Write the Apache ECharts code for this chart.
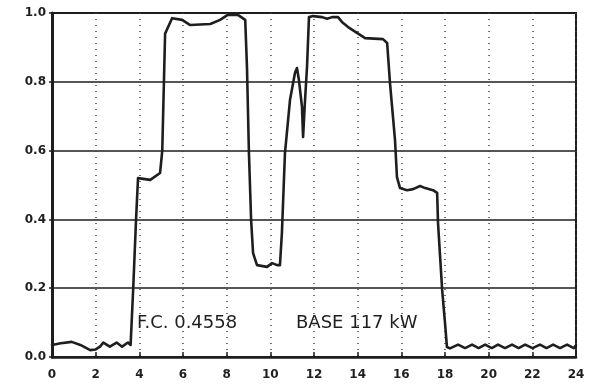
<!DOCTYPE html>
<html>
<head>
<meta charset="utf-8">
<script src="https://cdn.jsdelivr.net/npm/echarts@6/dist/echarts.min.js"></script>
<style>
html,body{margin:0;padding:0;background:#fff;}
#chart{width:599px;height:387px;}
</style>
</head>
<body>
<div id="chart"></div>
<script>
// Hour of day (x) and relative load (y)
const hours = [
  0.0, 0.4, 0.9, 1.3, 1.75, 2.0, 2.2, 2.35, 2.65, 2.96, 3.21, 3.48, 3.6,
  3.72, 3.85, 3.94, 4.5, 4.95, 5.05, 5.18, 5.5, 5.96, 6.33, 7.25, 7.7, 8.03, 8.53, 8.85,
  8.93, 9.02, 9.12, 9.21, 9.39, 9.85, 10.08, 10.31, 10.44, 10.53, 10.67, 10.9,
  11.13, 11.22, 11.31, 11.45, 11.5, 11.59, 11.68, 11.77, 11.96, 12.37, 12.6, 12.83,
  13.1, 13.28, 13.56, 13.97, 14.34, 15.16, 15.35, 15.48, 15.71, 15.8, 15.94, 16.26,
  16.54, 16.86, 17.09, 17.45, 17.64, 17.68, 17.87, 18.0, 18.09, 18.23,
  18.6, 18.92, 19.24, 19.54, 19.84, 20.14, 20.43, 20.75, 21.07, 21.37, 21.67, 22.01,
  22.35, 22.65, 22.95, 23.27, 23.59, 23.9, 24.0
];
const load = [
  0.035, 0.040, 0.044, 0.035, 0.020, 0.022, 0.030, 0.042, 0.030, 0.042, 0.030, 0.042, 0.035,
  0.200, 0.400, 0.520, 0.515, 0.535, 0.600, 0.940, 0.985, 0.980, 0.965, 0.968, 0.980, 0.994, 0.994, 0.980,
  0.843, 0.593, 0.398, 0.302, 0.267, 0.262, 0.273, 0.267, 0.267, 0.360, 0.593, 0.747,
  0.826, 0.840, 0.805, 0.727, 0.640, 0.747, 0.843, 0.988, 0.991, 0.988, 0.983, 0.988,
  0.988, 0.974, 0.959, 0.942, 0.927, 0.924, 0.913, 0.797, 0.631, 0.523, 0.491, 0.485,
  0.488, 0.497, 0.491, 0.485, 0.477, 0.390, 0.195, 0.099, 0.029, 0.025,
  0.036, 0.026, 0.036, 0.026, 0.036, 0.026, 0.036, 0.026, 0.036, 0.026, 0.036, 0.026,
  0.036, 0.026, 0.036, 0.026, 0.036, 0.026, 0.034
];
const xTickLabels = ['0','2','4','6','8','10','12','14','16','18','20','22','24'];
const yTickLabels = ['0.0','0.2','0.4','0.6','0.8','1.0'];
const annotations = ['F.C. 0.4558', 'BASE 117 kW'];

const seriesData = hours.map((h, i) => [h, load[i]]);
const ink = '#1e1e1e';

const chart = echarts.init(document.getElementById('chart'), null, {renderer: 'canvas'});
chart.setOption({
  animation: false,
  backgroundColor: '#ffffff',
  grid: {
    left: 52, right: 23, top: 13, bottom: 30,
    show: true, borderColor: ink, borderWidth: 2, backgroundColor: 'transparent'
  },
  xAxis: {
    type: 'value', min: 0, max: 24, interval: 2,
    axisLine: {show: true, onZero: false, lineStyle: {color: ink, width: 2.5}},
    axisTick: {show: true, inside: true, length: 5, lineStyle: {color: ink, width: 1.5}},
    axisLabel: {
      margin: 12, color: ink, fontSize: 12, fontWeight: 'bold', fontFamily: 'DejaVu Sans',
      formatter: (v) => xTickLabels[Math.round(v / 2)]
    },
    splitLine: {show: true, lineStyle: {color: '#444', width: 1.5, type: [1, 5]}}
  },
  yAxis: {
    type: 'value', min: 0, max: 1, interval: 0.2,
    axisLine: {show: true, onZero: false, lineStyle: {color: ink, width: 3}},
    axisTick: {show: true, length: 3, lineStyle: {color: ink, width: 1.5}},
    axisLabel: {
      margin: 6, color: ink, fontSize: 12, fontWeight: 'bold', fontFamily: 'DejaVu Sans',
      formatter: (v) => yTickLabels[Math.round(v / 0.2)]
    },
    splitLine: {show: true, lineStyle: {color: ink, width: 1.6}}
  },
  series: [{
    type: 'line',
    data: seriesData,
    showSymbol: false,
    smooth: false,
    lineStyle: {color: ink, width: 2.6, join: 'round', cap: 'round'},
    z: 5
  }],
  graphic: [
    {type: 'text', left: 137, top: 314,
     style: {text: annotations[0], fill: ink, font: '18px "DejaVu Sans"'}},
    {type: 'text', left: 296, top: 314,
     style: {text: annotations[1], fill: ink, font: '18px "DejaVu Sans"'}}
  ]
});
</script>
</body>
</html>
